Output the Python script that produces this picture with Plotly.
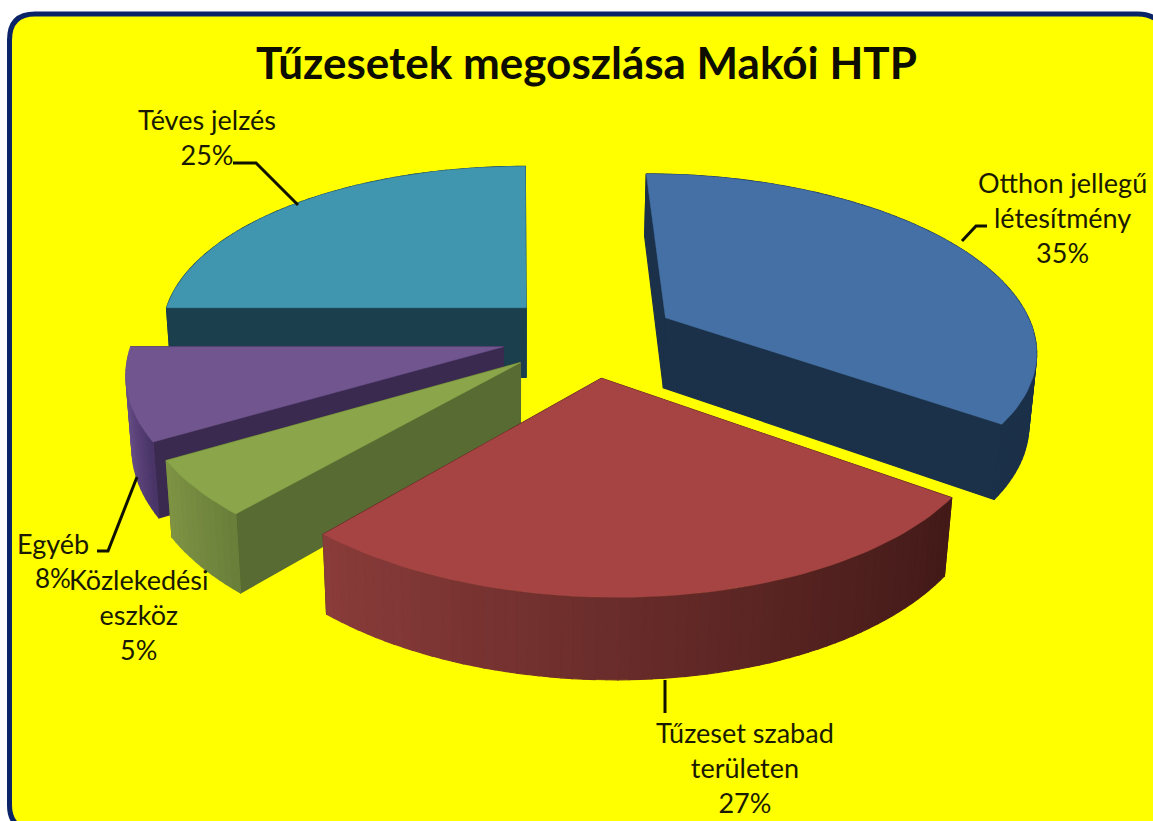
import math
import plotly.graph_objects as go

# --- data ---
categories = ["Otthon jellegű létesítmény", "Tűzeset szabad területen", "Közlekedési eszköz", "Egyéb", "Téves jelzés"]
values = [35.0, 26.6, 5.0, 8.4, 25.0]
label_text = ["Otthon jellegű<br>létesítmény<br>35%", "Tűzeset szabad<br>területen<br>27%",
              "Közlekedési<br>eszköz<br>5%", "Egyéb", "Téves jelzés<br>25%"]
title_text = "Tűzesetek megoszlása Makói HTP"
top_colors = ["#4470A6", "#A54442", "#8AA54A", "#70558F", "#4096AE"]
cut_colors = ["#1B3049", "#4A1D1B", "#586B32", "#3A2A50", "#1B3F4C"]
rim_left = ["#1B3049", "#8A3C3A", "#7F9444", "#70558F", "#1B3F4C"]
rim_right = ["#1B3049", "#431A18", "#6A7F3A", "#4A3568", "#1B3F4C"]

# --- projection of the pie ---
CX, CY, R, A, K, KZ, SHIFT, H, EXPLODE = 589, 336, 369, 171, 0.153, 0.015, 70, 72, 0.24
W, HT = 1153, 821


def project(x, y, z):
    w = 1 + K * y + KZ * z
    return (CX + (R * x + SHIFT * (1 - w)) / w, CY + (-A * y + H * z) / w)


def hex2rgb(h):
    return [int(h[i:i + 2], 16) for i in (1, 3, 5)]


def mix(a, b, t):
    ca, cb = hex2rgb(a), hex2rgb(b)
    return "rgb(%d,%d,%d)" % tuple(round(p + (q - p) * t) for p, q in zip(ca, cb))


fig = go.Figure()


def poly(pts, color, lw=1.2):
    fig.add_trace(go.Scatter(
        x=[p[0] for p in pts] + [pts[0][0]], y=[p[1] for p in pts] + [pts[0][1]],
        mode="lines", fill="toself", fillcolor=color,
        line=dict(color=color, width=lw), hoverinfo="skip", showlegend=False))


total = sum(values)
start = 0.0
slices = []
for i, v in enumerate(values):
    a0, a1 = start, start + v / total * 2 * math.pi
    start = a1
    slices.append((i, a0, a1))

for i, a0, a1 in sorted(slices, key=lambda s: -math.cos((s[1] + s[2]) / 2)):
    mid = (a0 + a1) / 2
    ox, oy = EXPLODE * math.sin(mid), EXPLODE * math.cos(mid)
    n = max(8, int((a1 - a0) * 40))
    arc = [(ox + math.sin(a0 + (a1 - a0) * j / n), oy + math.cos(a0 + (a1 - a0) * j / n)) for j in range(n + 1)]
    apex = (ox, oy)

    def side(p, q):
        return [project(p[0], p[1], 0), project(q[0], q[1], 0), project(q[0], q[1], 1), project(p[0], p[1], 1)]

    # cut faces and rim, back to front
    faces = [(side(apex, arc[0]), cut_colors[i], (apex[1] + arc[0][1]) / 2),
             (side(apex, arc[-1]), cut_colors[i], (apex[1] + arc[-1][1]) / 2)]
    xs = [p[0] for p in arc]
    for j in range(n):
        t = (arc[j][0] - min(xs)) / (max(xs) - min(xs) or 1)
        faces.append((side(arc[j], arc[j + 1]), mix(rim_left[i], rim_right[i], t), (arc[j][1] + arc[j + 1][1]) / 2))
    for pts, col, _ in sorted(faces, key=lambda f: -f[2]):
        poly(pts, col)
    poly([project(apex[0], apex[1], 0)] + [project(p[0], p[1], 0) for p in arc], top_colors[i], lw=0.5)

# --- annotations ---
FONT = "Lato, Open Sans, sans-serif"
TEXT = "#1a1a00"
label_pos = [(1062, 217), (745, 767), (138, 614), (53, 543), (207, 137)]
annotations = [dict(x=x, y=y, text=t, showarrow=False, xref="x", yref="y", xanchor="center", yanchor="middle",
                    font=dict(family=FONT, size=27, color=TEXT))
               for (x, y), t in zip(label_pos, label_text)]
annotations.append(dict(x=53, y=578, text="8%", showarrow=False, xref="x", yref="y",
                        font=dict(family=FONT, size=26, color=TEXT)))
annotations.append(dict(x=586, y=62, text="<b>" + title_text + "</b>", showarrow=False, xref="x", yref="y",
                        font=dict(family=FONT, size=44, color="#0d0d00")))

leaders = ["M 962 241 L 976 226 L 987 226", "M 665 680 L 665 713",
           "M 233 163 L 256 163 L 298 205", "M 97 551 L 108 551 L 137 477"]
shapes = [dict(type="path", layer="below", xref="x", yref="y",
               path="M 9.5 805 L 9.5 40 Q 9.5 14 35 14 L 1138 14 Q 1162 14 1168 40 L 1168 830 L 35 830 Q 9.5 830 9.5 805 Z",
               fillcolor="#FFFF00", line=dict(color="#0B2468", width=5))]
shapes += [dict(type="path", xref="x", yref="y", path=p, line=dict(color="#111100", width=3)) for p in leaders]

fig.update_layout(
    width=W, height=HT, margin=dict(l=0, r=0, t=0, b=0), autosize=False,
    paper_bgcolor="white", plot_bgcolor="rgba(0,0,0,0)", showlegend=False,
    xaxis=dict(range=[0, W], visible=False, fixedrange=True),
    yaxis=dict(range=[HT, 0], visible=False, fixedrange=True),
    annotations=annotations, shapes=shapes)
fig.write_html("out.html", config=dict(displayModeBar=False),
               post_script="document.body.style.margin='0';document.body.style.overflow='hidden';")
